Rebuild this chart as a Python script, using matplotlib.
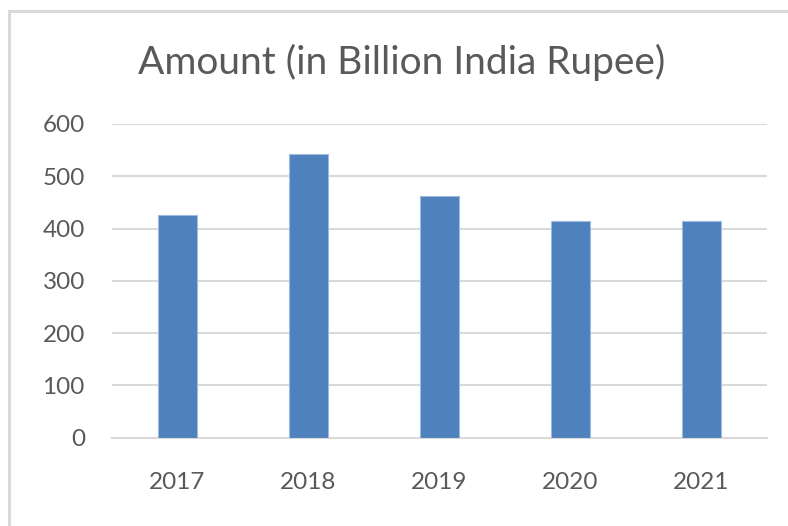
import matplotlib.pyplot as plt
from matplotlib.patches import Rectangle

plt.rcParams['font.family'] = ['Lato', 'DejaVu Sans']

# Amount per year, billion INR
years = ['2017', '2018', '2019', '2020', '2021']
amounts = [426, 542, 462, 415, 415]
yticks = [0, 100, 200, 300, 400, 500, 600]

bar_color = '#4f81bd'
grid_color = '#d9d9d9'
text_color = '#595959'

fig = plt.figure(figsize=(7.88, 5.26), dpi=100)
fig.patch.set_facecolor('white')

# light frame around the chart area (top and left edges visible)
fig.patches.append(Rectangle((9 / 788, -0.1), 1.2, 1.1 - 11 / 526,
                             transform=fig.transFigure, fill=False,
                             edgecolor=grid_color, linewidth=2.2, zorder=0))

ax = fig.add_axes([112 / 788, 1 - 437.7 / 526, 655 / 788, 313.7 / 526])
x = range(len(years))
ax.bar(x, amounts, width=0.30, color=bar_color, edgecolor='#9dbbe0',
       linewidth=0.8, zorder=3)

ax.set_xlim(-0.5, len(years) - 0.5)
ax.set_ylim(0, 600)
ax.set_yticks(yticks)
ax.set_yticklabels([str(t) for t in yticks])
ax.set_xticks(list(x))
ax.set_xticklabels(years)

ax.grid(axis='y', color=grid_color, linewidth=1.5, zorder=0)
ax.set_axisbelow(True)
for s in ['top', 'right', 'left']:
    ax.spines[s].set_visible(False)
ax.spines['bottom'].set_color(grid_color)
ax.spines['bottom'].set_linewidth(1.5)

ax.tick_params(axis='both', length=0, labelsize=17.5, labelcolor=text_color)
ax.tick_params(axis='y', pad=19.5)
ax.tick_params(axis='x', pad=25)

fig.text(402 / 788, 1 - 62 / 526, 'Amount (in Billion India Rupee)',
         ha='center', va='center', fontsize=28, color=text_color)

fig.savefig('out.png', dpi=100)
